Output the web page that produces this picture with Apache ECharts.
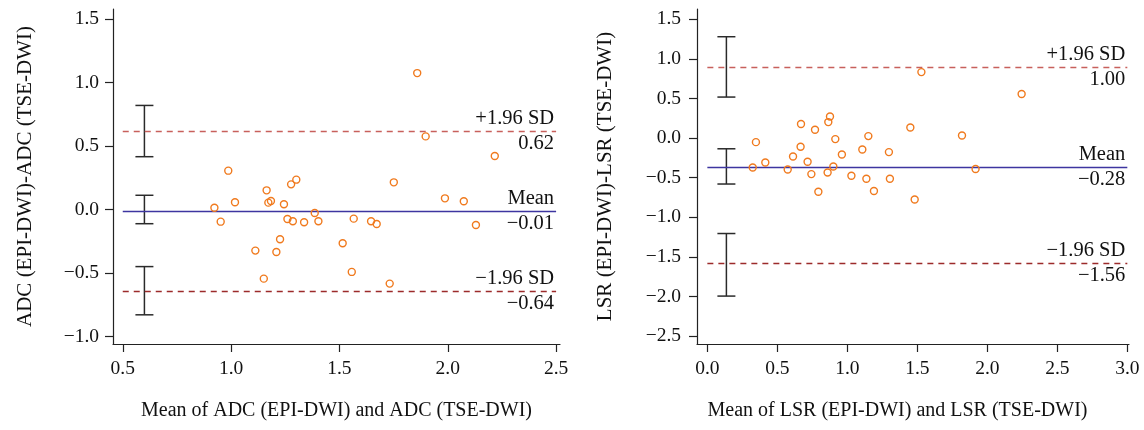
<!DOCTYPE html>
<html>
<head>
<meta charset="utf-8">
<script src="https://cdn.jsdelivr.net/npm/echarts@6/dist/echarts.min.js"></script>
<style>
html,body{margin:0;padding:0;background:#fff;}
#chart{width:1144px;height:430px;}
</style>
</head>
<body>
<div id="chart"></div>
<script>
// ---- Left panel (ADC) data ----
var adcMean = [1.859,1.898,2.217,0.987,1.164,1.277,1.301,1.751,0.923,0.952,1.018,1.172,1.184,1.244,1.260,1.285,1.337,1.386,1.403,1.226,1.112,1.209,1.151,1.515,1.566,1.557,1.646,1.672,1.732,1.987,2.074,2.130];
var adcDiff = [1.075,0.576,0.421,0.306,0.151,0.198,0.235,0.214,0.014,-0.096,0.057,0.054,0.067,0.041,-0.075,-0.093,-0.101,-0.028,-0.093,-0.235,-0.324,-0.335,-0.545,-0.266,-0.072,-0.492,-0.093,-0.114,-0.584,0.088,0.065,-0.122];
var adcLines = [0.618, -0.012, -0.642];           // +1.96 SD, mean, -1.96 SD
var adcLineSpan = [0.5, 2.5];
var adcTopLabels = ['+1.96 SD', 'Mean', '\u22121.96 SD'];
var adcBottomLabels = ['0.62', '\u22120.01', '\u22120.64'];
var adcErrX = 0.6;
var adcErrLow = [0.416, -0.112, -0.83];
var adcErrHigh = [0.82, 0.112, -0.45];
var adcTicksX = [0.5, 1.0, 1.5, 2.0, 2.5];
var adcTicksY = [-1.0, -0.5, 0.0, 0.5, 1.0, 1.5];

// ---- Right panel (LSR) data ----
var lsrMean = [1.529,2.245,0.347,0.324,0.414,0.574,0.612,0.666,0.669,0.716,0.743,0.769,0.793,0.864,0.876,0.859,0.900,0.914,0.961,1.029,1.107,1.150,1.136,1.190,1.297,1.304,1.450,1.481,1.819,1.916];
var lsrDiff = [0.833,0.556,-0.051,-0.371,-0.308,-0.396,-0.232,-0.110,0.177,-0.299,-0.455,0.105,-0.678,0.202,0.273,-0.434,-0.359,-0.013,-0.207,-0.476,-0.144,0.025,-0.514,-0.669,-0.177,-0.514,0.134,-0.775,0.033,-0.391];
var lsrLines = [0.90, -0.366, -1.583];
var lsrLineSpan = [0.0, 3.0];
var lsrTopLabels = ['+1.96 SD', 'Mean', '\u22121.96 SD'];
var lsrBottomLabels = ['1.00', '\u22120.28', '\u22121.56'];
var lsrErrX = 0.136;
var lsrErrLow = [0.518, -0.58, -1.995];
var lsrErrHigh = [1.28, -0.135, -1.205];
var lsrTicksX = [0.0, 0.5, 1.0, 1.5, 2.0, 2.5, 3.0];
var lsrTicksY = [-2.5, -2.0, -1.5, -1.0, -0.5, 0.0, 0.5, 1.0, 1.5];

var FONT = '"Liberation Serif", "DejaVu Serif", serif';
var lineColors = ['#c8605c', '#3d35a0', '#9c2b2b'];
var lineTypes = [[6,5], 'solid', [6,5]];
var lineWidths = [1.3, 1.3, 1.3];

function fmt(v){ return v.toFixed(1).replace('-', '\u2212'); }

function makeX(idx, min, max, ticks, name, margin, namePad){
  return {
    type: 'value', gridIndex: idx, min: min, max: max,
    name: name, nameLocation: 'middle', nameGap: 57,
    nameTextStyle: {fontFamily: FONT, fontSize: 20, color: '#111', padding: namePad},
    axisLine: {show: true, onZero: false, lineStyle: {color: '#222', width: 1.2}},
    axisTick: {show: true, inside: false, length: 8, customValues: ticks, lineStyle: {color: '#222', width: 1.2}},
    axisLabel: {show: true, margin: margin, customValues: ticks, formatter: fmt, fontFamily: FONT, fontSize: 19.5, color: '#111', showMinLabel: true, showMaxLabel: true},
    splitLine: {show: false}
  };
}
function makeY(idx, min, max, ticks, name, gap, margin){
  return {
    type: 'value', gridIndex: idx, min: min, max: max,
    name: name, nameLocation: 'middle', nameGap: gap, nameRotate: 90,
    nameTextStyle: {fontFamily: FONT, fontSize: 21, color: '#111'},
    axisLine: {show: true, onZero: false, lineStyle: {color: '#222', width: 1.2}},
    axisTick: {show: true, inside: false, length: 8, customValues: ticks, lineStyle: {color: '#222', width: 1.2}},
    axisLabel: {show: true, margin: margin, customValues: ticks, formatter: fmt, fontFamily: FONT, fontSize: 19.5, color: '#111', showMinLabel: true, showMaxLabel: true},
    splitLine: {show: false}
  };
}

function pairs(xs, ys){ return xs.map(function(x, i){ return [x, ys[i]]; }); }

function errSeries(idx, x, lows, highs){
  return {
    type: 'custom', xAxisIndex: idx, yAxisIndex: idx, silent: true,
    data: lows.map(function(l, i){ return [x, l, highs[i]]; }),
    renderItem: function(params, api){
      var top = api.coord([api.value(0), api.value(2)]);
      var bot = api.coord([api.value(0), api.value(1)]);
      var hw = 9;
      var st = {stroke: '#2a2a2a', lineWidth: 1.5};
      return {type: 'group', children: [
        {type: 'line', shape: {x1: top[0], y1: top[1], x2: bot[0], y2: bot[1]}, style: st},
        {type: 'line', shape: {x1: top[0]-hw, y1: top[1], x2: top[0]+hw, y2: top[1]}, style: st},
        {type: 'line', shape: {x1: bot[0]-hw, y1: bot[1], x2: bot[0]+hw, y2: bot[1]}, style: st}
      ]};
    }
  };
}

function limitSeries(idx, vals, span, topLabels, bottomLabels){
  var data = [];
  vals.forEach(function(v, i){
    data.push([
      {coord: [span[0], v], lineStyle: {color: lineColors[i], type: lineTypes[i], width: lineWidths[i]},
       label: {show: true, position: 'insideEndTop', formatter: topLabels[i], distance: 2}},
      {coord: [span[1], v]}
    ]);
    data.push([
      {coord: [span[0], v], lineStyle: {color: 'rgba(0,0,0,0)', width: 0},
       label: {show: true, position: 'insideEndBottom', formatter: bottomLabels[i], distance: 2}},
      {coord: [span[1], v]}
    ]);
  });
  return {
    type: 'line', xAxisIndex: idx, yAxisIndex: idx, data: [], silent: true,
    markLine: {
      silent: true, symbol: ['none', 'none'], animation: false,
      label: {fontFamily: FONT, fontSize: 20.5, color: '#111'},
      emphasis: {disabled: true},
      data: data
    }
  };
}

function scatterSeries(idx, xs, ys){
  return {
    type: 'scatter', xAxisIndex: idx, yAxisIndex: idx, silent: true,
    symbol: 'circle', symbolSize: 7,
    itemStyle: {color: 'rgba(255,255,255,0)', borderColor: '#f07a1e', borderWidth: 1.4, opacity: 1},
    data: pairs(xs, ys), z: 5
  };
}

var chart = echarts.init(document.getElementById('chart'), null, {renderer: 'canvas'});
chart.setOption({
  animation: false,
  backgroundColor: '#ffffff',
  grid: [
    {left: 113, top: 9, width: 447, height: 335},
    {left: 697, top: 9, width: 432, height: 335}
  ],
  xAxis: [
    makeX(0, 0.455, 2.518, adcTicksX, 'Mean of ADC (EPI-DWI) and ADC (TSE-DWI)', 15, [0,0,0,0]),
    makeX(1, -0.074, 3.012, lsrTicksX, 'Mean of LSR (EPI-DWI) and LSR (TSE-DWI)', 15, [0,31,0,0])
  ],
  yAxis: [
    makeY(0, -1.06, 1.58, adcTicksY, 'ADC (EPI-DWI)-ADC (TSE-DWI)', 77, 14),
    makeY(1, -2.60, 1.63, lsrTicksY, 'LSR (EPI-DWI)-LSR (TSE-DWI)', 81, 16)
  ],
  series: [
    limitSeries(0, adcLines, adcLineSpan, adcTopLabels, adcBottomLabels),
    errSeries(0, adcErrX, adcErrLow, adcErrHigh),
    scatterSeries(0, adcMean, adcDiff),
    limitSeries(1, lsrLines, lsrLineSpan, lsrTopLabels, lsrBottomLabels),
    errSeries(1, lsrErrX, lsrErrLow, lsrErrHigh),
    scatterSeries(1, lsrMean, lsrDiff)
  ]
});
</script>
</body>
</html>
